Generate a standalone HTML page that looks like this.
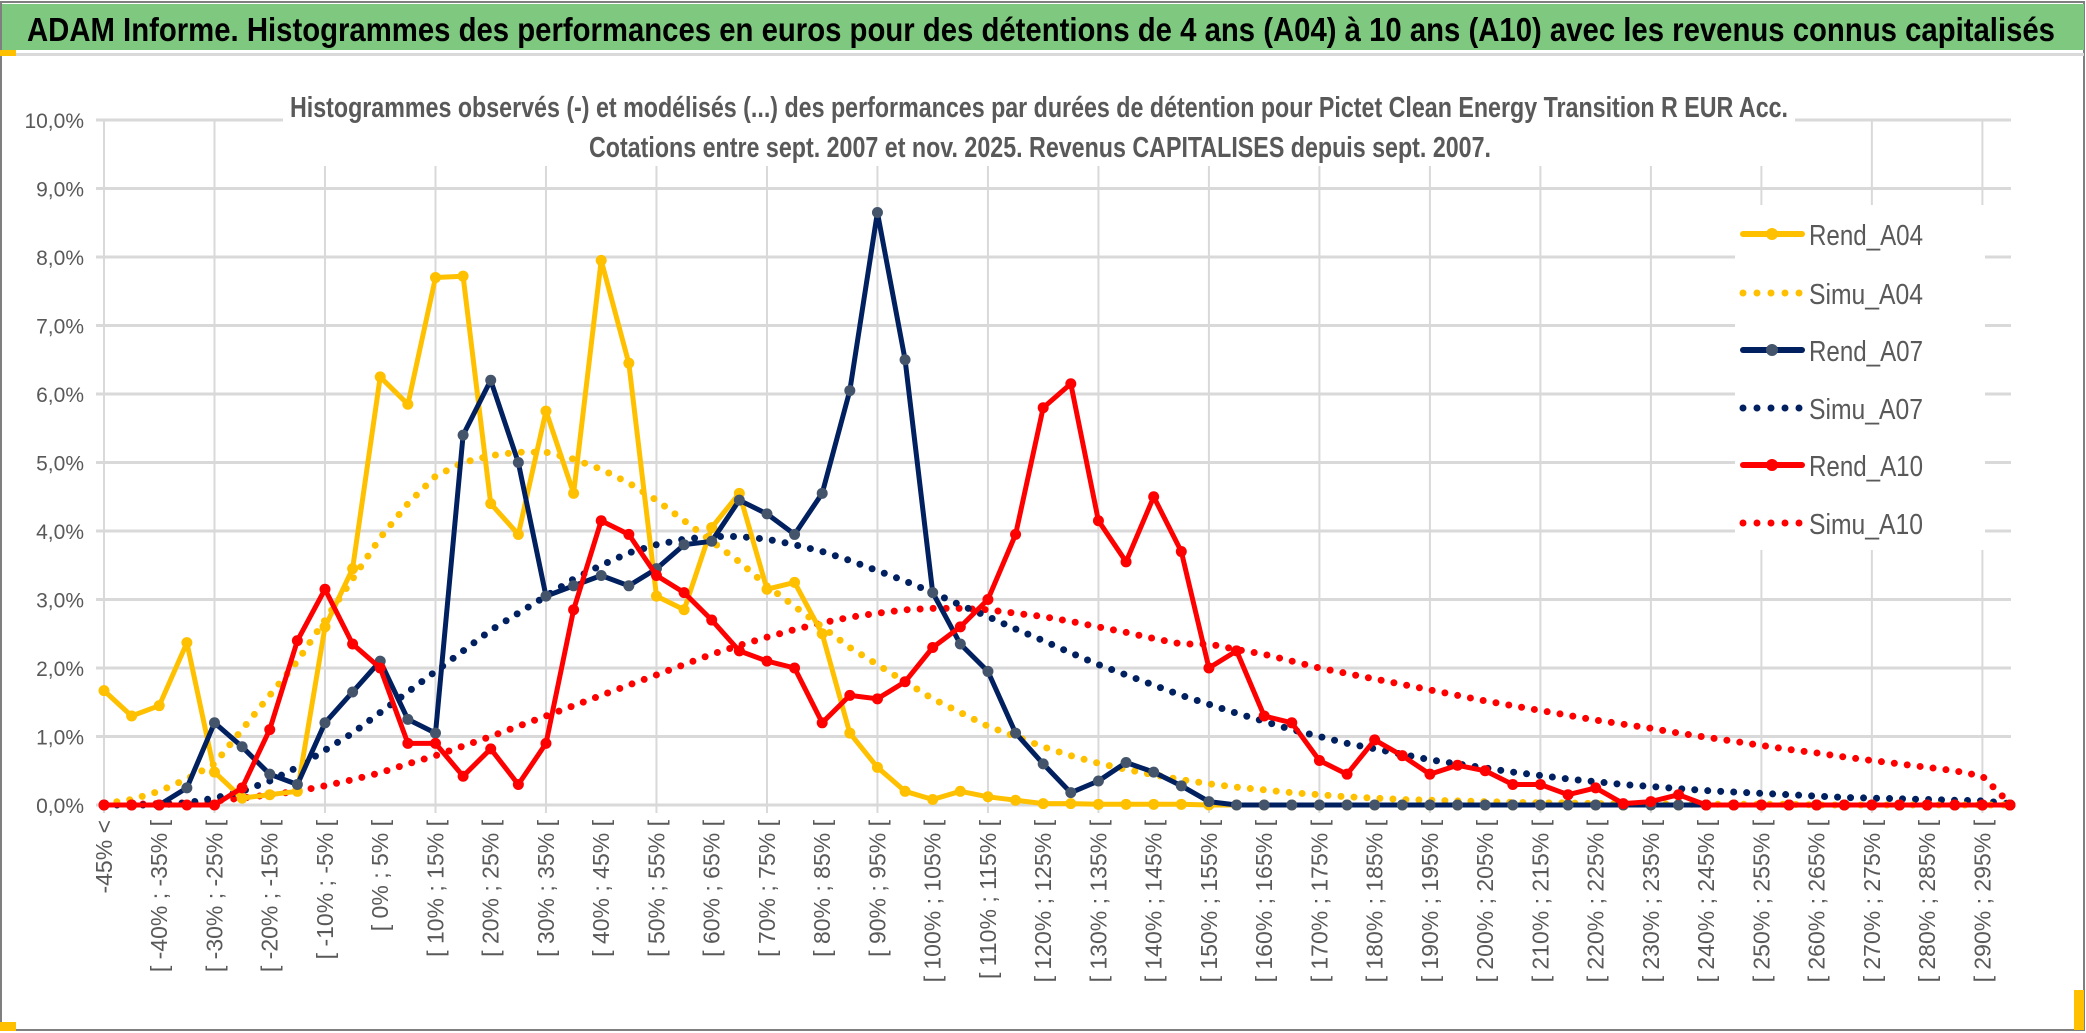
<!DOCTYPE html>
<html><head><meta charset="utf-8"><style>
html,body{margin:0;padding:0;background:#fff;}
svg{display:block;font-family:"Liberation Sans",sans-serif;}
</style></head><body>
<svg id="chart" width="2086" height="1033" viewBox="0 0 2086 1033" xmlns="http://www.w3.org/2000/svg">
<rect x="0" y="0" width="2086" height="1033" fill="#fff"/>
<rect x="1" y="2" width="2083" height="1028" fill="none" stroke="#7f7f7f" stroke-width="2"/>
<rect x="2" y="4" width="2082" height="46" fill="#7ec87f"/>
<rect x="2" y="53" width="2082" height="3" fill="#d9d9d9"/>
<rect x="0" y="50" width="16" height="6" fill="#ffc000"/>
<rect x="0" y="1022" width="16" height="9" fill="#ffc000"/>
<rect x="2074" y="990" width="10" height="40" fill="#ffc000"/>
<text x="27" y="41" font-size="33" font-weight="bold" fill="#000" textLength="2028" lengthAdjust="spacingAndGlyphs">ADAM Informe. Histogrammes des performances en euros pour des détentions de 4 ans (A04) à 10 ans (A10) avec les revenus connus capitalisés</text>
<g id="grid"></g>
<g id="yaxis"></g>
<g id="xaxis"></g>
<rect x="283" y="80" width="1512" height="86" fill="#fff"/>
<text x="290" y="117" font-size="29" font-weight="bold" fill="#595959" textLength="1498" lengthAdjust="spacingAndGlyphs">Histogrammes observés (-) et modélisés (...) des performances par durées de détention pour Pictet Clean Energy Transition R EUR Acc.</text>
<text x="589" y="157" font-size="29" font-weight="bold" fill="#595959" textLength="902" lengthAdjust="spacingAndGlyphs">Cotations entre sept. 2007 et nov. 2025. Revenus CAPITALISES depuis sept. 2007.</text>
<g id="series"></g>
<rect x="1735" y="205" width="250" height="345" fill="#fff"/>
<g id="legend"></g>
</svg>
<script>
const categoryStarts = [-45,-45,-40,-35,-30,-25,-20,-15,-10,-5,0,5,10,15,20,25,30,35,40,45,50,55,60,65,70,75,80,85,90,95,100,105,110,115,120,125,130,135,140,145,150,155,160,165,170,175,180,185,190,195,200,205,210,215,220,225,230,235,240,245,250,255,260,265,270,275,280,285,290,295];
const yTicks = [0,1,2,3,4,5,6,7,8,9,10];
const rendA04 = [1.67,1.3,1.45,2.37,0.48,0.1,0.15,0.2,2.6,3.45,6.25,5.85,7.7,7.72,4.4,3.95,5.75,4.55,7.95,6.45,3.05,2.85,4.05,4.55,3.15,3.25,2.5,1.05,0.55,0.2,0.08,0.2,0.12,0.07,0.02,0.02,0.01,0.01,0.01,0.01,0,0,0,0,0,0,0,0,0,0,0,0,0,0,0,0,0,0,0,0,0,0,0,0,0,0,0,0,0,0];
const simuA04 = [0.02,0.08,0.2,0.38,0.6,1.1,1.6,2.1,2.7,3.3,3.9,4.4,4.8,5.0,5.1,5.15,5.15,5.05,4.9,4.7,4.45,4.15,3.85,3.55,3.2,2.9,2.6,2.3,2.05,1.8,1.55,1.35,1.15,1.0,0.85,0.72,0.61,0.52,0.44,0.37,0.31,0.26,0.22,0.18,0.15,0.12,0.1,0.08,0.07,0.06,0.05,0.04,0.03,0.03,0.02,0.02,0.02,0.01,0.01,0.01,0.01,0.01,0,0,0,0,0,0,0,0];
const rendA07 = [0,0,0,0.25,1.2,0.85,0.45,0.3,1.2,1.65,2.1,1.25,1.05,5.4,6.2,5.0,3.05,3.2,3.35,3.2,3.45,3.8,3.85,4.45,4.25,3.95,4.55,6.05,8.65,6.5,3.1,2.35,1.95,1.05,0.6,0.18,0.35,0.62,0.48,0.28,0.05,0,0,0,0,0,0,0,0,0,0,0,0,0,0,0,0,0,0,0,0,0,0,0,0,0,0,0,0,0];
const simuA07 = [0,0,0,0.03,0.1,0.2,0.35,0.55,0.8,1.05,1.35,1.65,1.95,2.25,2.55,2.8,3.05,3.3,3.5,3.68,3.8,3.88,3.92,3.92,3.88,3.8,3.7,3.57,3.42,3.27,3.1,2.92,2.75,2.57,2.4,2.22,2.05,1.9,1.75,1.6,1.47,1.34,1.22,1.1,1.0,0.9,0.82,0.74,0.66,0.6,0.54,0.48,0.43,0.38,0.34,0.3,0.27,0.24,0.21,0.19,0.17,0.15,0.13,0.11,0.1,0.09,0.08,0.07,0.06,0.02];
const rendA10 = [0,0,0,0,0,0.25,1.1,2.4,3.15,2.35,2.0,0.9,0.9,0.42,0.82,0.3,0.9,2.85,4.15,3.95,3.35,3.1,2.7,2.25,2.1,2.0,1.2,1.6,1.55,1.8,2.3,2.6,3.0,3.95,5.8,6.15,4.15,3.55,4.5,3.7,2.0,2.25,1.3,1.2,0.65,0.45,0.95,0.72,0.45,0.58,0.5,0.3,0.3,0.15,0.25,0.02,0.05,0.15,0,0,0,0,0,0,0,0,0,0,0,0];
const simuA10 = [0,0.01,0.02,0.03,0.06,0.1,0.15,0.2,0.28,0.37,0.47,0.6,0.72,0.86,1.0,1.15,1.3,1.45,1.6,1.75,1.9,2.05,2.2,2.33,2.45,2.56,2.66,2.74,2.8,2.85,2.87,2.87,2.85,2.8,2.75,2.68,2.6,2.52,2.43,2.35,2.35,2.27,2.2,2.1,2.0,1.92,1.84,1.76,1.68,1.6,1.52,1.45,1.38,1.31,1.24,1.18,1.12,1.05,0.99,0.93,0.87,0.81,0.76,0.7,0.65,0.6,0.55,0.5,0.42,0.02];
const seriesNames = ["Rend_A04","Simu_A04","Rend_A07","Simu_A07","Rend_A10","Simu_A10"];

const NS = "http://www.w3.org/2000/svg";
const X0 = 104, X1 = 2010, Y0 = 805, Y1 = 120, YMAX = 10;
const n = categoryStarts.length;
function xScale(i){ return X0 + i*(X1-X0)/(n-1); }
function yScale(v){ return Y0 - v/YMAX*(Y0-Y1); }
function mk(tag, attrs, parent){ const e=document.createElementNS(NS,tag); for(const k in attrs) e.setAttribute(k,attrs[k]); parent.appendChild(e); return e; }
function catLabel(i){ if(i===0) return "-45% <"; const a=categoryStarts[i]; return "[ "+a+"% ; "+(a+5)+"% ["; }

const grid = document.getElementById('grid');
yTicks.forEach(t=>{
  const l = mk('line',{x1:96,x2:2011,y1:yScale(t),y2:yScale(t),stroke:'#d9d9d9','stroke-width':3},grid);
  
  
});
for(let i=0;i<n;i+=4){
  const l = mk('line',{x1:xScale(i),x2:xScale(i),y1:Y1,y2:Y0+8,stroke:'#d9d9d9','stroke-width':2},grid);
  
  
}
const yaxis = document.getElementById('yaxis');
yTicks.forEach(t=>{
  const tx = mk('text',{x:84,y:yScale(t)+8,'text-anchor':'end','font-size':21,fill:'#595959'},yaxis);
  tx.textContent = t.toFixed(1).replace('.',',')+'%';
  
  
});
const xaxis = document.getElementById('xaxis');
for(let i=0;i<n;i+=2){
  const x = xScale(i)+8;
  const tx = mk('text',{x:0,y:0,transform:'translate('+x+',820) rotate(-90)','text-anchor':'end','font-size':23,fill:'#595959'},xaxis);
  tx.textContent = catLabel(i);
  
  
}

const seriesLayer = document.getElementById('series');
function pathD(vals){ return vals.map((v,i)=>(i?'L':'M')+xScale(i).toFixed(1)+','+yScale(v).toFixed(1)).join(' '); }
function dotted(vals,color,name){
  const p = mk('path',{d:pathD(vals),fill:'none',stroke:color,'stroke-width':7,'stroke-linecap':'round','stroke-dasharray':'0 13'},seriesLayer);
  
  
}
function solid(vals,color,mcolor,name){
  const g = mk('g',{},seriesLayer);
  
  
  mk('path',{d:pathD(vals),fill:'none',stroke:color,'stroke-width':5,'stroke-linejoin':'round'},g);
  vals.forEach((v,i)=>{
    const c = mk('circle',{cx:xScale(i),cy:yScale(v),r:5.5,fill:mcolor},g);
    
    
  });
}
dotted(simuA10,'#ff0000','simu-a10-line');
dotted(simuA07,'#002060','simu-a07-line');
dotted(simuA04,'#ffc000','simu-a04-line');
solid(rendA04,'#ffc000','#ffc000','rend-a04-line');
solid(rendA07,'#002060','#44546a','rend-a07-line');
solid(rendA10,'#ff0000','#ff0000','rend-a10-line');

const legend = document.getElementById('legend');
const legColors = ['#ffc000','#ffc000','#002060','#002060','#ff0000','#ff0000'];
const legMarker = ['#ffc000',null,'#44546a',null,'#ff0000',null];
const legY = [234,293,350,408,465,523];
seriesNames.forEach((nm,k)=>{
  const g = mk('g',{},legend);
  
  
  const y = legY[k];
  if(legMarker[k]){
    mk('line',{x1:1743,x2:1802,y1:y,y2:y,stroke:legColors[k],'stroke-width':6,'stroke-linecap':'round'},g);
    mk('circle',{cx:1772,cy:y,r:6,fill:legMarker[k]},g);
  } else {
    mk('line',{x1:1743,x2:1802,y1:y,y2:y,stroke:legColors[k],'stroke-width':7,'stroke-linecap':'round','stroke-dasharray':'0 14'},g);
  }
  const t = mk('text',{x:1809,y:y+11,'font-size':29,fill:'#595959',textLength:114,lengthAdjust:'spacingAndGlyphs'},g);
  t.textContent = nm;
});
</script>
</body></html>
